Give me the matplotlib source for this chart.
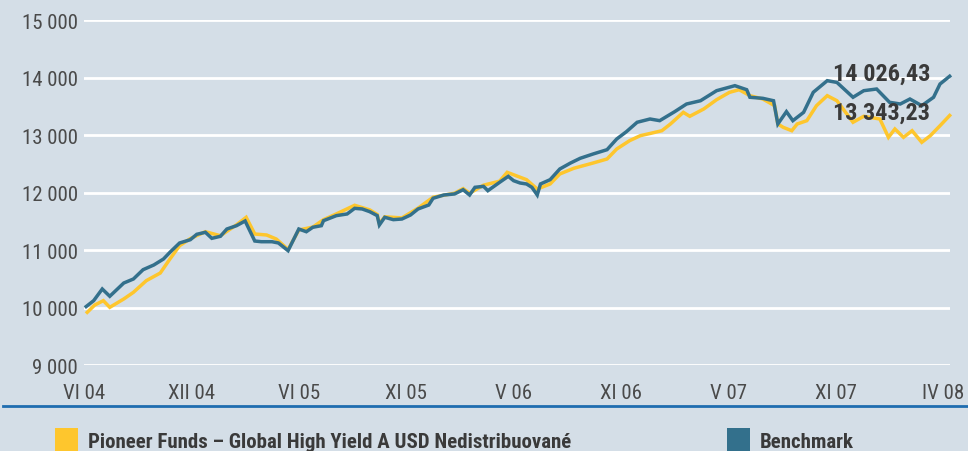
import matplotlib
matplotlib.use("Agg")
import matplotlib.pyplot as plt
from matplotlib.lines import Line2D
from matplotlib.patches import Rectangle

plt.rcParams['font.family'] = ['Roboto Condensed', 'DejaVu Sans']

# --------------------------
# Data (x in tick-period units, 0 = VI 04)
# --------------------------
tick_labels = ["VI 04", "XII 04", "VI 05", "XI 05", "V 06", "XI 06", "V 07", "XI 07", "IV 08"]
y_ticks = [9000, 10000, 11000, 12000, 13000, 14000, 15000]

bench_x = [0.02, 0.09, 0.17, 0.24, 0.37, 0.46, 0.55, 0.65, 0.74, 0.80, 0.89, 0.99,
           1.05, 1.13, 1.19, 1.27, 1.33, 1.42, 1.50, 1.59, 1.65, 1.75, 1.81, 1.90,
           2.00, 2.07, 2.13, 2.21, 2.23, 2.35, 2.45, 2.52, 2.59, 2.66, 2.73, 2.75,
           2.80, 2.88, 2.96, 3.04, 3.11, 3.21, 3.25, 3.35, 3.45, 3.53, 3.59, 3.64,
           3.72, 3.76, 3.87, 3.95, 4.00, 4.06, 4.12, 4.17, 4.22, 4.25, 4.34, 4.43,
           4.53, 4.62, 4.74, 4.87, 4.96, 5.05, 5.15, 5.27, 5.36, 5.50, 5.61, 5.74,
           5.89, 6.06, 6.17, 6.20, 6.32, 6.42, 6.46, 6.54, 6.60, 6.70, 6.79, 6.92,
           7.01, 7.16, 7.26, 7.38, 7.50, 7.60, 7.69, 7.80, 7.91, 7.97, 8.06]
bench_y = [10017, 10120, 10323, 10196, 10427, 10497, 10659, 10741, 10845, 10962, 11124, 11181,
           11275, 11310, 11205, 11240, 11367, 11425, 11507, 11158, 11146, 11146, 11124, 10990,
           11367, 11320, 11397, 11425, 11512, 11600, 11629, 11727, 11716, 11669, 11600, 11437,
           11571, 11530, 11541, 11611, 11716, 11785, 11902, 11959, 11977, 12051, 11959, 12093,
           12110, 12034, 12180, 12284, 12208, 12168, 12151, 12093, 11959, 12151, 12226, 12412,
           12516, 12598, 12673, 12748, 12934, 13061, 13225, 13282, 13253, 13410, 13543, 13600,
           13775, 13862, 13792, 13660, 13642, 13600, 13195, 13410, 13253, 13398, 13747, 13949,
           13919, 13660, 13775, 13804, 13573, 13543, 13630, 13514, 13660, 13891, 14026.43]

fund_x = [0.03, 0.10, 0.18, 0.24, 0.37, 0.46, 0.58, 0.71, 0.80, 0.89, 0.99, 1.13,
          1.27, 1.42, 1.51, 1.59, 1.70, 1.79, 1.90, 2.00, 2.13, 2.23, 2.35, 2.52,
          2.66, 2.73, 2.75, 2.80, 2.96, 3.11, 3.25, 3.45, 3.53, 3.59, 3.72, 3.87,
          3.94, 4.12, 4.22, 4.34, 4.43, 4.56, 4.74, 4.87, 4.96, 5.08, 5.18, 5.27,
          5.38, 5.46, 5.58, 5.64, 5.77, 5.89, 6.01, 6.10, 6.20, 6.32, 6.43, 6.46,
          6.51, 6.59, 6.64, 6.73, 6.82, 6.92, 7.01, 7.16, 7.26, 7.41, 7.49, 7.55,
          7.63, 7.71, 7.80, 7.88, 7.97, 8.06]
fund_y = [9917, 10044, 10120, 10004, 10149, 10265, 10468, 10601, 10845, 11077, 11200, 11320,
          11250, 11440, 11571, 11280, 11263, 11193, 11010, 11350, 11400, 11530, 11630, 11780,
          11700, 11620, 11460, 11580, 11560, 11730, 11920, 11990, 12070, 11990, 12130, 12200,
          12354, 12226, 12063, 12151, 12325, 12424, 12516, 12586, 12760, 12905, 12992, 13030,
          13078, 13195, 13398, 13329, 13456, 13618, 13746, 13792, 13688, 13630, 13514, 13195,
          13137, 13078, 13195, 13253, 13514, 13688, 13600, 13225, 13329, 13282, 12963, 13108,
          12963, 13078, 12876, 12992, 13165, 13343.23]

fund_name = "Pioneer Funds – Global High Yield A USD Nedistribuované"
bench_name = "Benchmark"

BG = '#d4dee7'
YELLOW = '#fec62d'
BLUE = '#33708c'
TEXT = '#4a4a4a'
DARK = '#3a3a3a'


def fmt_thousands(v, decimals=0):
    s = f"{v:,.{decimals}f}"
    return s.replace(",", " ").replace(".", ",")


fig = plt.figure(figsize=(9.68, 4.52), dpi=100, facecolor=BG)
ax = fig.add_axes([84 / 968, 86 / 452, 866 / 968, 344.7 / 452])
ax.set_facecolor(BG)

ax.plot(fund_x, fund_y, color=YELLOW, lw=2.5, solid_joinstyle='miter', clip_on=False, zorder=3)
ax.plot(bench_x, bench_y, color=BLUE, lw=2.5, solid_joinstyle='miter', clip_on=False, zorder=4)

ax.set_xlim(0, 8.063)
ax.set_ylim(9000, 15000)
ax.set_yticks(y_ticks)
ax.set_yticklabels([fmt_thousands(v) for v in y_ticks])
ax.set_xticks(range(len(tick_labels)))
ax.set_xticklabels(tick_labels)
ax.grid(axis='y', color='white', lw=2)
ax.set_axisbelow(True)
for s in ax.spines.values():
    s.set_visible(False)
ax.tick_params(axis='y', length=0, pad=4.5, labelsize=15, labelcolor=TEXT)
ax.tick_params(axis='x', length=0, pad=13, labelsize=15, labelcolor=TEXT)

# popisky poslednich hodnot
for xs, ys in ((bench_x, bench_y), (fund_x, fund_y)):
    ax.annotate(fmt_thousands(ys[-1], 2), xy=(xs[-1], ys[-1]), xytext=(-14, 2),
                textcoords='offset points', ha='right', va='center',
                fontsize=17.5, fontweight='bold', color=DARK, zorder=5)

# oddelovaci cara
fig.add_artist(Line2D([3 / 968, 1], [1 - 406.7 / 452] * 2, color='#1f6db0', lw=2))

# legenda
fig.add_artist(Rectangle((55 / 968, 0), 23 / 968, 23 / 452, color=YELLOW, lw=0))
fig.add_artist(Rectangle((727 / 968, 0), 23 / 968, 23 / 452, color=BLUE, lw=0))
fig.text(88 / 968, 4 / 452, fund_name, fontsize=15, fontweight='bold', color=DARK, va='baseline')
fig.text(760 / 968, 4 / 452, bench_name, fontsize=15, fontweight='bold', color=DARK, va='baseline')

fig.savefig('out.png', dpi=100, facecolor=BG)
